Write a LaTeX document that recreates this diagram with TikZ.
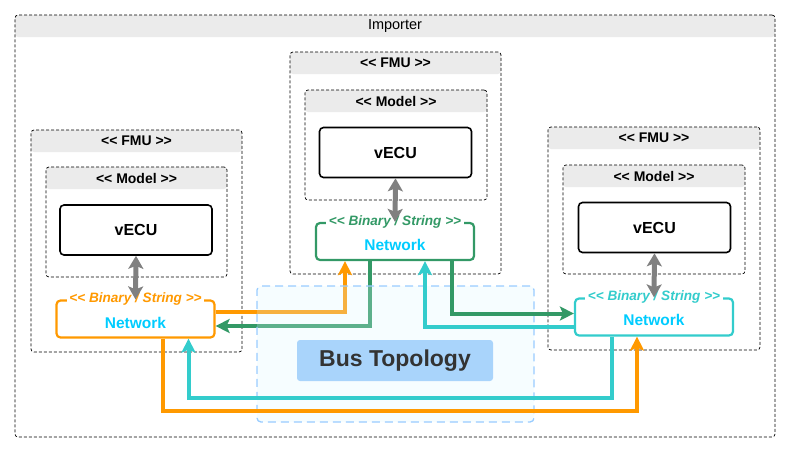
\documentclass[tikz,border=0pt]{standalone}
\usepackage{fontspec}
\setmainfont{Liberation Sans}
\usetikzlibrary{arrows.meta}

\definecolor{hdrgray}{HTML}{EBEBEB}
\definecolor{netorange}{HTML}{FF9900}
\definecolor{netgreen}{HTML}{339966}
\definecolor{netteal}{HTML}{33CCCC}
\definecolor{nettext}{HTML}{00CCFF}
\definecolor{busline}{HTML}{99CCFF}
\definecolor{busfill}{HTML}{DDF6FF}
\definecolor{buslabel}{HTML}{A9D4FB}
\definecolor{bustext}{HTML}{333333}

% keep << and >> from turning into guillemets
\newcommand\lchev{<\kern0pt<}
\newcommand\rchev{>\kern0pt>}

\begin{document}
\begin{tikzpicture}[x = 1pt, y = -1pt,
        container/.style = {draw, dash pattern = on 3pt off 2pt, line width = 0.7pt,
            rounded corners = 3pt, inner sep = 0pt, outer sep = 0pt,
            path picture = {\fill [hdrgray] (path picture bounding box.north west)
                rectangle ([yshift = -22pt] path picture bounding box.north east);}},
        hdrtext/.style = {font = \bfseries\fontsize{14}{16}\selectfont},
        ecubox/.style = {draw, line width = 1.6pt, rounded corners = 4pt,
            minimum width = 152pt, minimum height = 50pt,
            font = \bfseries\fontsize{16}{18}\selectfont},
        netbox/.style = {draw = #1, line width = 2.2pt, rounded corners = 4pt,
            minimum width = 158pt, minimum height = 37pt, inner sep = 0pt},
        nettag/.style = {fill = white, text = #1, inner xsep = 2.5pt, inner ysep = 0pt,
            font = \bfseries\itshape\fontsize{13.6}{15}\selectfont},
        netlabel/.style = {text = nettext, font = \bfseries\fontsize{15.5}{17}\selectfont},
        link/.style = {draw = #1, line width = 4pt,
            -{Stealth[length = 14pt, width = 14pt, inset = 3pt]}},
        apiarrow/.style = {draw = gray, line width = 5pt,
            {Stealth[length = 13pt, width = 15pt, inset = 3pt]}-{Stealth[length = 13pt, width = 15pt, inset = 3pt]}}
    ]
    \useasboundingbox (0,0) rectangle (791,453);

    % importer frame
    \node [container, minimum width = 760pt, minimum height = 422pt] (importer) at (395,226) {};
    \node [font = \fontsize{14.5}{16}\selectfont] (importerhdr) at ([yshift = -11pt] importer.north) {Importer};

    % FMU frames
    \node [container, minimum width = 211pt, minimum height = 222pt] (fmuL) at (136.5,241) {};
    \node [container, minimum width = 211pt, minimum height = 222pt] (fmuM) at (395.5,163) {};
    \node [container, minimum width = 212pt, minimum height = 223pt] (fmuR) at (654,238.5) {};
    \node [hdrtext] (fmuLhdr) at ([yshift = -11pt] fmuL.north) {\lchev{} FMU \rchev};
    \node [hdrtext] (fmuMhdr) at ([yshift = -11pt] fmuM.north) {\lchev{} FMU \rchev};
    \node [hdrtext] (fmuRhdr) at ([yshift = -11pt] fmuR.north) {\lchev{} FMU \rchev};

    % model frames
    \node [container, minimum width = 181pt, minimum height = 110pt] (modelL) at (136.5,222) {};
    \node [container, minimum width = 182pt, minimum height = 110pt] (modelM) at (396,145) {};
    \node [container, minimum width = 182pt, minimum height = 109pt] (modelR) at (654,219.5) {};
    \node [hdrtext] (modelLhdr) at ([yshift = -11pt] modelL.north) {\lchev{} Model \rchev};
    \node [hdrtext] (modelMhdr) at ([yshift = -11pt] modelM.north) {\lchev{} Model \rchev};
    \node [hdrtext] (modelRhdr) at ([yshift = -11pt] modelR.north) {\lchev{} Model \rchev};

    % vECUs
    \node [ecubox] (ecuL) at (136,230) {vECU};
    \node [ecubox] (ecuM) at (395.5,152.5) {vECU};
    \node [ecubox] (ecuR) at (654.5,227.5) {vECU};

    % network interfaces
    \node [netbox = netorange] (netL) at (135.5,319) {};
    \node [netbox = netgreen]  (netM) at (395,241.5) {};
    \node [netbox = netteal]   (netR) at (654,317) {};
    \node [nettag = netorange] (tagL) at (netL.north) {\lchev{} Binary / String \rchev};
    \node [nettag = netgreen]  (tagM) at (netM.north) {\lchev{} Binary / String \rchev};
    \node [nettag = netteal]   (tagR) at (netR.north) {\lchev{} Binary / String \rchev};
    \node [netlabel] (labL) at ([yshift = -4pt] netL.center) {Network};
    \node [netlabel] (labM) at ([yshift = -3.5pt] netM.center) {Network};
    \node [netlabel] (labR) at ([yshift = -3pt] netR.center) {Network};

    % links under the bus area
    \draw [link = netorange] ([yshift = 7pt] netL.east) -| ([xshift = -50pt] netM.south);
    \draw [link = netgreen]  ([xshift = -25pt] netM.south) |- ([yshift = -7pt] netL.east);

    % bus area
    \node [draw = busline, dash pattern = on 8pt off 5pt, line width = 1.3pt, rounded corners = 4pt,
        fill = busfill, fill opacity = 0.25, minimum width = 277pt, minimum height = 136pt] (bus) at (395.5,354) {};
    \node [fill = buslabel, rounded corners = 3pt, minimum width = 196pt, minimum height = 41pt,
        text = bustext, font = \bfseries\fontsize{23}{26}\selectfont] (buslbl) at (395,360.5) {Bus Topology};

    % links over the bus area
    \draw [link = netgreen] ([xshift = 57pt] netM.south) |- ([yshift = 3.5pt] netR.west);
    \draw [link = netteal]  ([yshift = -10pt] netR.west) -| ([xshift = 30pt] netM.south);
    \draw [link = netteal]  ([xshift = -42pt] netR.south) -- ++(0,61) -| ([xshift = 53pt] netL.south);
    \draw [link = netorange] ([xshift = 27.5pt] netL.south) -- ++(0,72) -| ([xshift = -17pt] netR.south);

    % model to network
    \draw [apiarrow] (ecuL.south) -- (netL.north);
    \draw [apiarrow] (ecuM.south) -- (netM.north);
    \draw [apiarrow] (ecuR.south) -- (netR.north);
\end{tikzpicture}
\end{document}
